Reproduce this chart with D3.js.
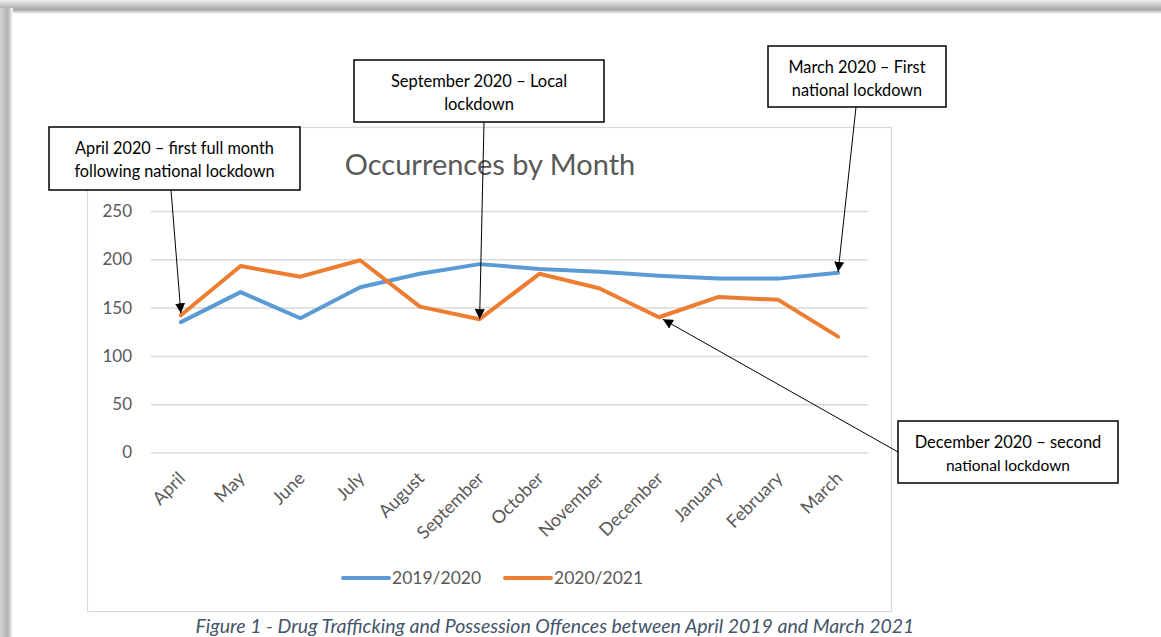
<!DOCTYPE html>
<html>
<head>
<meta charset="utf-8">
<script src="https://cdn.jsdelivr.net/npm/d3@7"></script>
<style>
  body { margin: 0; background: #fff; }
  svg { display: block; font-family: Lato, "Open Sans", sans-serif; }
</style>
</head>
<body>
<div id="chart"></div>
<script>
var months = ['April', 'May', 'June', 'July', 'August', 'September', 'October',
              'November', 'December', 'January', 'February', 'March']
var series2019 = [135, 166, 139, 171, 185, 195, 190, 187, 183, 180, 180, 186]
var series2020 = [142, 193, 182, 199, 151, 138, 185, 170, 140, 161, 158, 120]
var seriesNames = ['2019/2020', '2020/2021']
var yTicks = [0, 50, 100, 150, 200, 250]

var svg_width = 1161,
    svg_height = 637,
    plot = { left: 151, right: 868, top: 211, bottom: 452.5 }

var svg = d3.select('#chart')
            .append('svg')
            .attr('width', svg_width)
            .attr('height', svg_height)

// page shadow bands (top + left)
var defs = svg.append('defs')
var gTop = defs.append('linearGradient').attr('id', 'gTop')
    .attr('x1', 0).attr('y1', 0).attr('x2', 0).attr('y2', 1)
gTop.append('stop').attr('offset', '0%').attr('stop-color', '#eeeeee')
gTop.append('stop').attr('offset', '70%').attr('stop-color', '#a6a6a6')
gTop.append('stop').attr('offset', '100%').attr('stop-color', '#ffffff')
var gLeft = defs.append('linearGradient').attr('id', 'gLeft')
    .attr('x1', 0).attr('y1', 0).attr('x2', 1).attr('y2', 0)
gLeft.append('stop').attr('offset', '0%').attr('stop-color', '#d4d4d4')
gLeft.append('stop').attr('offset', '60%').attr('stop-color', '#b0b0b0')
gLeft.append('stop').attr('offset', '100%').attr('stop-color', '#ffffff')

svg.append('rect').attr('x', 0).attr('y', 0).attr('width', svg_width).attr('height', 14)
    .attr('fill', 'url(#gTop)')
svg.append('rect').attr('x', 0).attr('y', 8).attr('width', 13).attr('height', svg_height)
    .attr('fill', 'url(#gLeft)')

// chart area frame
svg.append('rect')
    .attr('x', 87.5).attr('y', 127.5)
    .attr('width', 804).attr('height', 484)
    .attr('fill', '#fff')
    .attr('stroke', '#d9d9d9')
    .attr('stroke-width', 1.2)

var xScale = d3.scalePoint()
    .domain(months)
    .range([plot.left, plot.right])
    .padding(0.5)

var yScale = d3.scaleLinear()
    .domain([0, 250])
    .range([plot.bottom, plot.top])

// gridlines
var grid = svg.append('g')
    .attr('transform', `translate(${plot.left}, 0)`)
    .call(d3.axisLeft(yScale).tickValues(yTicks).tickSize(-(plot.right - plot.left)).tickFormat(''))
grid.select('.domain').remove()
grid.selectAll('line').attr('stroke', '#d9d9d9').attr('stroke-width', 1.5)

// y labels
var yAxis = svg.append('g')
    .attr('transform', `translate(${plot.left - 16}, 0)`)
    .call(d3.axisLeft(yScale).tickValues(yTicks).tickSize(0))
yAxis.select('.domain').remove()
yAxis.selectAll('text')
    .attr('fill', '#595959')
    .style('font-size', '17px')
    .style('font-family', 'Lato, sans-serif')

// x labels
var xAxis = svg.append('g')
    .attr('transform', `translate(0, ${plot.bottom})`)
    .call(d3.axisBottom(xScale).tickSize(0))
xAxis.select('.domain').remove()
xAxis.selectAll('text')
    .attr('fill', '#595959')
    .style('font-size', '18px')
    .style('font-family', 'Lato, sans-serif')
    .attr('text-anchor', 'end')
    .attr('dy', 0)
    .attr('y', 0)
    .attr('transform', 'translate(5, 27) rotate(-45)')

// title
svg.append('text')
    .attr('x', 490).attr('y', 175)
    .attr('text-anchor', 'middle')
    .attr('fill', '#595959')
    .style('font-size', '29px')
    .text('Occurrences by Month')

// lines
var line = d3.line()
    .x((d, i) => xScale(months[i]))
    .y(d => yScale(d))

var colours = ['#5b9bd5', '#ed7d31']
var allSeries = [series2019, series2020]

allSeries.forEach((s, k) => {
  svg.append('path')
      .datum(s)
      .attr('d', line)
      .attr('fill', 'none')
      .attr('stroke', colours[k])
      .attr('stroke-width', 4)
      .attr('stroke-linejoin', 'round')
      .attr('stroke-linecap', 'round')
})

// legend
var legendX = [343, 505]
seriesNames.forEach((name, k) => {
  svg.append('line')
      .attr('x1', legendX[k]).attr('x2', legendX[k] + 46)
      .attr('y1', 578).attr('y2', 578)
      .attr('stroke', colours[k])
      .attr('stroke-width', 4)
      .attr('stroke-linecap', 'round')
  svg.append('text')
      .attr('x', legendX[k] + 49).attr('y', 584)
      .attr('fill', '#595959')
      .style('font-size', '17.5px')
      .text(name)
})

// caption
svg.append('text')
    .attr('x', 555).attr('y', 633)
    .attr('text-anchor', 'middle')
    .attr('fill', '#44546a')
    .style('font-size', '19.5px')
    .style('font-style', 'italic')
    .text('Figure 1 - Drug Trafficking and Possession Offences between April 2019 and March 2021')

// annotations
defs.append('marker')
    .attr('id', 'arrow')
    .attr('viewBox', '0 0 10 10')
    .attr('refX', 10).attr('refY', 5)
    .attr('markerWidth', 10).attr('markerHeight', 10)
    .attr('markerUnits', 'userSpaceOnUse')
    .attr('orient', 'auto')
  .append('path')
    .attr('d', 'M0,0 L10,5 L0,10 Z')
    .attr('fill', '#000')

var notes = [
  { box: [49, 127, 251, 63], lines: ['April 2020 – first full month', 'following national lockdown'],
    sizes: [16.3, 16.3], from: [171, 190], month: 'April', value: series2020[0], dy: -2 },
  { box: [354, 60, 250, 62], lines: ['September 2020 – Local', 'lockdown'],
    sizes: [16.5, 16.5], from: [484, 122], month: 'September', value: series2020[5], dy: 0 },
  { box: [768, 46, 178, 61], lines: ['March 2020 – First', 'national lockdown'],
    sizes: [16.3, 16.3], from: [856, 107], month: 'March', value: series2019[11], dy: -1 },
  { box: [898, 421, 220, 62], lines: ['December 2020 – second', 'national lockdown'],
    sizes: [16.5, 15.5], from: [898, 452], month: 'December', value: series2020[8], dx: 4, dy: 2 }
]

notes.forEach(n => {
  var tx = xScale(n.month) + (n.dx || 0),
      ty = yScale(n.value) + (n.dy || 0)
  svg.append('line')
      .attr('x1', n.from[0]).attr('y1', n.from[1])
      .attr('x2', tx).attr('y2', ty)
      .attr('stroke', '#000')
      .attr('stroke-width', 1)
      .attr('marker-end', 'url(#arrow)')
  svg.append('rect')
      .attr('x', n.box[0]).attr('y', n.box[1])
      .attr('width', n.box[2]).attr('height', n.box[3])
      .attr('fill', '#fff')
      .attr('stroke', '#000')
      .attr('stroke-width', 1.5)
  n.lines.forEach((t, i) => {
    svg.append('text')
        .attr('x', n.box[0] + n.box[2] / 2)
        .attr('y', n.box[1] + 27 + i * 23)
        .attr('text-anchor', 'middle')
        .attr('fill', '#000')
        .style('font-size', n.sizes[i] + 'px')
        .text(t)
  })
})
</script>
</body>
</html>
